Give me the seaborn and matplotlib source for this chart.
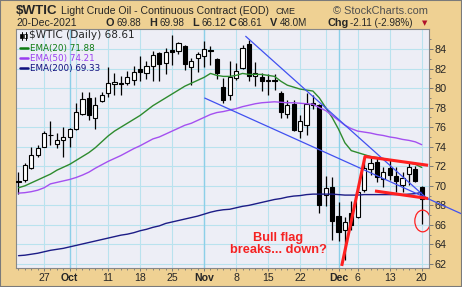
import numpy as np
import pandas as pd
import matplotlib
matplotlib.use("Agg")
import matplotlib.pyplot as plt
import seaborn as sns
from matplotlib.patches import Rectangle, Ellipse
from matplotlib.lines import Line2D

# ---------------- data ----------------
days = ["Sep21", "Sep22", "Sep23", "Sep24", "Sep27", "Sep28", "Sep29", "Sep30", "Oct1",
        "Oct4", "Oct5", "Oct6", "Oct7", "Oct8", "Oct11", "Oct12", "Oct13", "Oct14", "Oct15",
        "Oct18", "Oct19", "Oct20", "Oct21", "Oct22", "Oct25", "Oct26", "Oct27", "Oct28", "Oct29",
        "Nov1", "Nov2", "Nov3", "Nov4", "Nov5", "Nov8", "Nov9", "Nov10", "Nov11", "Nov12",
        "Nov15", "Nov16", "Nov17", "Nov18", "Nov19", "Nov22", "Nov23", "Nov24", "Nov26",
        "Nov29", "Nov30", "Dec1", "Dec2", "Dec3", "Dec6", "Dec7", "Dec8", "Dec9", "Dec10",
        "Dec13", "Dec14", "Dec15", "Dec16", "Dec17", "Dec20"]
opens = [70.45, 70.6, 71.8, 73.15, 74.0, 75.25, 74.25, 74.7, 74.95,
         75.8, 77.4, 78.95, 76.9, 78.7, 79.45, 80.45, 80.55, 80.5, 80.8,
         81.95, 81.5, 82.3, 83.6, 82.55, 83.93, 83.75, 84.3, 82.2, 83.1,
         83.25, 83.9, 83.0, 80.1, 79.3, 81.05, 82.1, 84.5, 81.27, 81.13,
         80.7, 80.85, 79.5, 77.4, 78.37, 75.6, 76.25, 78.45, 78.24,
         69.1, 69.85, 66.9, 65.5, 67.25, 66.8, 69.55, 71.7, 72.4, 70.65,
         71.85, 71.0, 70.1, 71.2, 71.7, 69.88]
highs = [71.4, 72.35, 74.0, 74.2, 75.6, 76.6, 75.4, 76.05, 75.9,
         78.45, 79.6, 79.6, 79.1, 79.6, 82.2, 81.5, 81.2, 81.8, 82.3,
         83.25, 82.8, 83.75, 83.7, 84.1, 85.46, 84.75, 84.45, 83.1, 83.65,
         84.8, 84.3, 83.1, 81.0, 82.75, 82.6, 84.45, 84.95, 82.7, 81.5,
         81.4, 81.4, 79.7, 78.8, 78.8, 77.2, 79.5, 79.3, 78.4,
         71.0, 70.9, 68.3, 66.85, 68.4, 69.9, 73.0, 72.8, 72.9, 71.95,
         72.6, 71.95, 71.45, 72.45, 72.0, 69.98]
lows = [69.2, 70.4, 71.7, 72.9, 73.95, 74.2, 73.85, 73.0, 74.0,
        75.7, 77.2, 76.7, 75.8, 78.6, 79.1, 79.3, 79.3, 80.35, 80.3,
        80.7, 80.9, 80.7, 80.7, 81.4, 82.4, 83.5, 81.9, 80.35, 81.6,
        82.2, 82.4, 80.9, 78.5, 78.8, 80.8, 82.0, 80.7, 80.2, 79.7,
        79.3, 79.8, 76.9, 76.9, 75.6, 74.9, 75.2, 77.9, 67.2,
        67.9, 64.5, 64.4, 62.4, 65.5, 66.7, 69.4, 71.1, 70.4, 69.9,
        70.6, 69.4, 69.4, 70.1, 70.4, 66.12]
closes = [70.35, 72.1, 73.15, 73.85, 75.4, 75.15, 74.7, 74.95, 75.8,
          77.6, 78.9, 77.25, 78.3, 79.3, 80.5, 80.65, 80.45, 81.1, 81.65,
          81.6, 82.3, 83.35, 82.45, 83.7, 83.66, 84.6, 82.5, 82.75, 83.5,
          84.0, 83.75, 81.5, 78.8, 81.1, 81.8, 84.1, 81.2, 81.55, 80.7,
          80.85, 80.75, 77.6, 78.3, 75.74, 76.6, 78.37, 78.3, 68.0,
          69.75, 66.4, 65.3, 66.3, 66.0, 69.4, 71.8, 72.3, 70.9, 71.45,
          71.1, 70.5, 70.75, 71.95, 70.5, 68.61]
ema20 = [69.8, 70.0, 70.3, 70.6, 70.9, 71.2, 71.6, 71.9, 72.2,
         72.6, 73.0, 73.4, 73.9, 74.5, 75.1, 75.6, 76.0, 76.4, 76.8,
         77.2, 77.7, 78.2, 78.6, 79.0, 79.4, 79.8, 80.2, 80.5, 80.8,
         81.1, 81.5, 81.3, 81.2, 81.2, 81.3, 81.5, 81.4, 81.4, 81.4,
         81.3, 81.2, 80.7, 80.3, 80.1, 79.9, 79.8, 79.7, 79.0,
         78.0, 77.0, 75.8, 74.4, 73.6, 73.4, 73.2, 73.0, 72.9, 72.8,
         72.65, 72.55, 72.45, 72.35, 72.2, 71.88]
ema50 = [69.25, 69.3, 69.4, 69.55, 69.8, 70.2, 70.35, 70.5, 70.65,
         70.85, 71.1, 71.4, 71.8, 72.15, 72.5, 72.8, 73.1, 73.45, 73.8,
         74.1, 74.45, 74.8, 75.0, 75.3, 75.6, 75.9, 76.2, 76.4, 76.7,
         77.0, 77.3, 77.5, 77.6, 77.75, 77.9, 78.1, 78.25, 78.4, 78.5,
         78.55, 78.6, 78.55, 78.5, 78.5, 78.45, 78.4, 78.35, 78.0,
         77.7, 77.2, 76.7, 76.2, 75.85, 75.6, 75.5, 75.4, 75.25, 75.15,
         75.0, 74.9, 74.75, 74.65, 74.5, 74.21]
ema200 = [62.85, 62.9, 63.0, 63.1, 63.25, 63.4, 63.5, 63.6, 63.75,
          63.9, 64.05, 64.2, 64.35, 64.5, 64.65, 64.8, 64.95, 65.05, 65.2,
          65.4, 65.55, 65.75, 65.9, 66.15, 66.3, 66.45, 66.6, 66.75, 66.9,
          67.1, 67.3, 67.45, 67.55, 67.6, 67.75, 67.9, 68.0, 68.15, 68.3,
          68.45, 68.6, 68.7, 68.85, 68.95, 69.0, 69.1, 69.15, 69.15,
          69.15, 69.15, 69.1, 69.05, 69.05, 69.05, 69.1, 69.1, 69.1, 69.1,
          69.1, 69.1, 69.1, 69.15, 69.2, 69.33]

xtick_idx = [4, 8, 14, 19, 24, 29, 34, 39, 44, 50, 53, 58, 63]
xtick_labels = ["27", "Oct", "11", "18", "25", "Nov", "8", "15", "22", "Dec", "6", "13", "20"]
month_labels = ["Oct", "Nov", "Dec"]
week_idx = [4, 9, 14, 19, 24, 29, 34, 39, 44, 48, 53, 58, 63]
month_idx = [8, 29, 50]
ytick_vals = list(range(62, 86, 2))

# hand-drawn annotation lines (index, price)
blue_steep_x = [35.5, 64.0]
blue_steep_y = [85.3, 68.6]
blue_shallow_x = [29.1, 69.3]
blue_shallow_y = [78.98, 67.11]
red_pole_x = [50.5, 54.14, 64.0]
red_pole_y = [61.8, 73.0, 72.1]
red_low_x = [55.7, 64.0]
red_low_y = [69.47, 68.7]

# ---------------- style ----------------
sns.set_style("white")
plt.rcParams['font.family'] = ['Liberation Sans', 'DejaVu Sans']

TAN = '#EFD193'
PLOTBG = '#EDEEF6'
GRID = '#B9E2EE'
GRID_M = '#8CCFE8'

W, H = 462, 287
fig = plt.figure(figsize=(W / 100, H / 100), dpi=100)
fig.patch.set_facecolor(TAN)

def fx(x):
    return x / W

def fy(y):
    return 1 - y / H

ax = fig.add_axes([fx(16), fy(267.5), (429 - 16) / W, (267.5 - 28.5) / H])
ax.set_facecolor(PLOTBG)
ax.set_xlim(-0.39, 64.14)
ax.set_ylim(61.64, 86.1)

# grid
for v in ytick_vals:
    ax.axhline(v, color=GRID, lw=0.8, zorder=0)
for i in week_idx:
    ax.axvline(i, color=GRID, lw=0.8, zorder=0)
for i in month_idx:
    ax.axvline(i, color=GRID_M, lw=1.0, zorder=0)

# candles
idx = np.arange(len(days))
o = np.array(opens); c = np.array(closes)
hi = np.array(highs); lo = np.array(lows)
up = c >= o
ax.vlines(idx, lo, hi, color='black', lw=0.9, zorder=2)
body_bottom = np.minimum(o, c)
body_h = np.maximum(np.abs(c - o), 0.08)
ax.bar(idx[up], body_h[up], bottom=body_bottom[up], width=0.68,
       color='white', edgecolor='black', linewidth=0.8, zorder=3)
ax.bar(idx[~up], body_h[~up], bottom=body_bottom[~up], width=0.68,
       color='black', edgecolor='black', linewidth=0.8, zorder=3)

# EMAs with seaborn
df = pd.DataFrame({
    'idx': np.concatenate([idx, idx, idx]),
    'value': ema20 + ema50 + ema200,
    'series': ['EMA(20)'] * len(idx) + ['EMA(50)'] * len(idx) + ['EMA(200)'] * len(idx),
})
pal = {'EMA(20)': '#2E8B2E', 'EMA(50)': '#A450F0', 'EMA(200)': '#1C1C86'}
sns.lineplot(data=df, x='idx', y='value', hue='series', palette=pal, legend=False,
             ax=ax, linewidth=1.0, zorder=4)

# trend lines
ax.plot(blue_steep_x, blue_steep_y, color='#4050F0', lw=0.9, zorder=5)
ax.plot(blue_shallow_x, blue_shallow_y, color='#4050F0', lw=0.9, zorder=5, clip_on=False)
ax.plot(red_pole_x, red_pole_y, color='#FF2020', lw=2.2, zorder=6, solid_capstyle='butt')
ax.plot(red_low_x, red_low_y, color='#FF2020', lw=2.2, zorder=6, solid_capstyle='butt')
ax.add_patch(Ellipse((63.15, 66.4), 2.45, 2.22, fill=False, edgecolor='#FF2020', lw=0.9, zorder=6))

ax.text(40.6, 64.05, "Bull flag\nbreaks... down?", ha='center', va='center',
        color='#F52222', fontweight='bold', fontsize=9.2, linespacing=1.05, zorder=7)

# axes
ax.set_xlabel(''); ax.set_ylabel('')
ax.set_xticks(xtick_idx)
ax.set_xticklabels(xtick_labels)
ax.set_xticks(idx, minor=True)
ax.yaxis.tick_right()
ax.set_yticks(ytick_vals)
ax.set_yticklabels([str(v) for v in ytick_vals])
ax.set_yticks(list(range(62, 86)), minor=True)
ax.tick_params(axis='x', which='major', direction='out', length=2.5, width=0.7,
               color='#777777', pad=1.5, labelsize=7.6, bottom=True)
ax.tick_params(axis='x', which='minor', direction='out', length=1.5, width=0.6,
               color='#777777', bottom=True)
ax.tick_params(axis='y', which='major', direction='out', length=3, width=0.7,
               color='#777777', pad=1, labelsize=7.8, right=True, left=False)
ax.tick_params(axis='y', which='minor', direction='out', length=1.5, width=0.6,
               color='#777777', right=True, left=False)
for lab in ax.get_xticklabels():
    if lab.get_text() in month_labels:
        lab.set_fontweight('bold')
for sp in ax.spines.values():
    sp.set_visible(True)
    sp.set_color('#888888')
    sp.set_linewidth(0.8)

# ---------------- header ----------------
fig.text(fx(16), fy(13.5), "$WTIC", fontsize=9.6, fontweight='bold', va='baseline')
fig.text(fx(61), fy(13.5), "Light Crude Oil - Continuous Contract (EOD)", fontsize=7.6, va='baseline')
fig.text(fx(276), fy(13.5), "CME", fontsize=6.5, va='baseline')
fig.text(fx(428), fy(13.5), "\u00a9 StockCharts.com", fontsize=7.9, va='baseline', ha='right',
         color='#505050')

fig.text(fx(16), fy(26), "20-Dec-2021", fontsize=7.5, va='baseline')
hdr_items = [(106, "O", True), (116.5, "69.88", False), (149, "H", True), (159, "69.98", False),
             (192.5, "L", True), (201, "66.12", False), (228.5, "C", True), (238, "68.61", False),
             (270, "V", True), (280, "48.0M", False), (327, "Chg", True),
             (350, "-2.11 (-2.98%)", False)]
for x, s, b in hdr_items:
    fig.text(fx(x), fy(26), s, fontsize=7.8 if b else 7.1,
             fontweight='bold' if b else 'normal', va='baseline')
fig.text(fx(424.5), fy(22.7), "\u25bc", fontsize=5, color='#B0102A', ha='center', va='center',
         family=['DejaVu Sans'])

# ---------------- in-plot legend ----------------
# tiny candle icon
fig.add_artist(Line2D([fx(21.5), fx(21.5)], [fy(31.5), fy(39.5)], transform=fig.transFigure,
                      color='black', lw=0.7))
fig.add_artist(Rectangle((fx(20.3), fy(38)), 2.4 / W, 4.5 / H, transform=fig.transFigure,
                         facecolor='black', edgecolor='black', lw=0.5))
fig.add_artist(Line2D([fx(25.5), fx(25.5)], [fy(32), fy(39.5)], transform=fig.transFigure,
                      color='black', lw=0.7))
fig.add_artist(Rectangle((fx(24.3), fy(37.5)), 2.4 / W, 4 / H, transform=fig.transFigure,
                         facecolor='white', edgecolor='black', lw=0.5))
fig.text(fx(29), fy(38.5), "$WTIC (Daily) 68.61", fontsize=7.6, va='baseline',
         family=['DejaVu Sans'])
leg = [("EMA(20) 71.88", '#0E7A12', 47.7, 51.0),
       ("EMA(50) 74.21", '#9A3DF0', 57.7, 61.0),
       ("EMA(200) 69.33", '#10107E', 67.7, 71.0)]
for s, col, ly, by in leg:
    fig.add_artist(Line2D([fx(20), fx(28)], [fy(ly), fy(ly)], transform=fig.transFigure,
                          color=col, lw=1.8))
    fig.text(fx(30), fy(by), s, fontsize=6.3, va='baseline', color=col, family=['DejaVu Sans'])

# outer border
fig.add_artist(Rectangle((0, 0), 1, 1, transform=fig.transFigure, fill=False,
                         edgecolor='#7A7A7A', lw=1.5))

fig.savefig("out.png", dpi=100, facecolor=TAN)
